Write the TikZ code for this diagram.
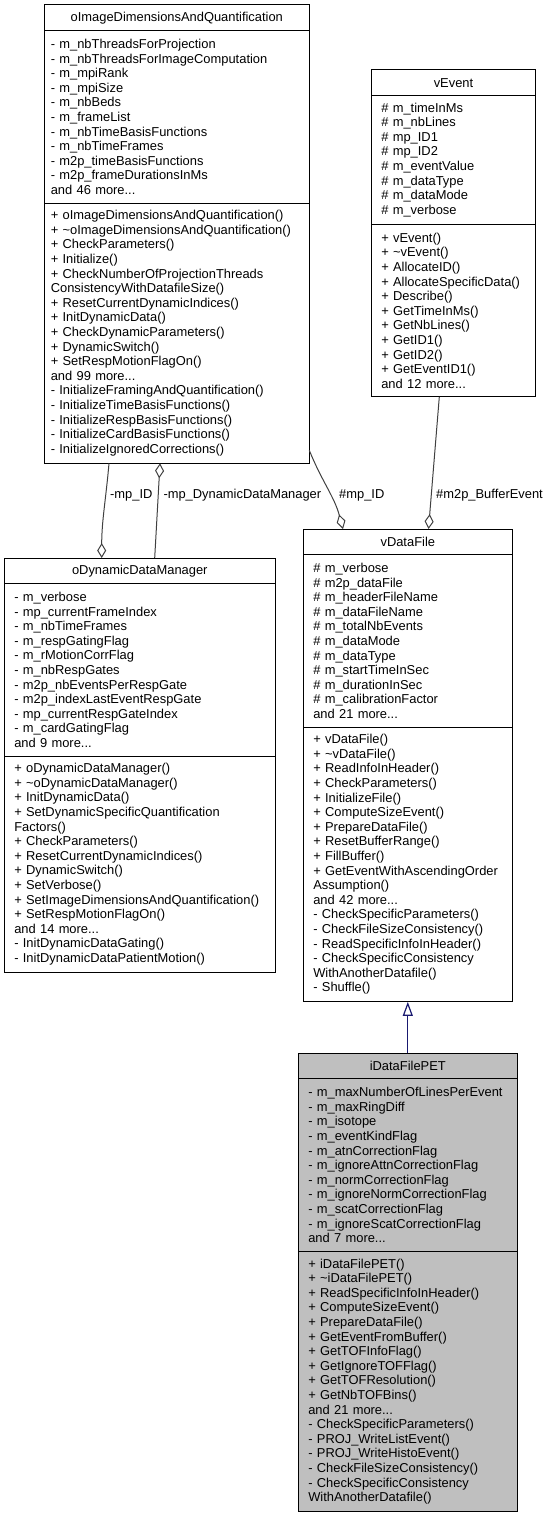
\documentclass[tikz,border=0pt]{standalone}
\usepackage{fontspec}
\setmainfont{Liberation Sans}
\usetikzlibrary{arrows.meta,positioning}
\definecolor{edgegray}{HTML}{404040}
\definecolor{inhblue}{HTML}{191970}
\tikzstyle{ctitle}=[
	draw=black,
	line width=1pt,
	outer sep=0pt,
	inner ysep=0pt,
	inner xsep=10pt,
	minimum height=25.5pt,
	align=center
]
\tikzstyle{cpart}=[
	draw=black,
	line width=1pt,
	outer sep=0pt,
	inner ysep=0pt,
	inner xsep=10pt,
	align=left
]
\tikzstyle{aggr}=[
	-{Diamond[open,length=15pt,width=9pt]},
	draw=edgegray,
	line width=1pt
]
\tikzstyle{inherit}=[
	-{Triangle[open,length=14pt,width=10pt]},
	draw=inhblue,
	line width=1.2pt
]
\tikzstyle{elabel}=[
	anchor=west,
	inner sep=0pt
]
\begin{document}
\begin{tikzpicture}[x=1pt,y=-1pt,font=\fontsize{12.9}{14.6}\selectfont]
\useasboundingbox (0,0) rectangle (549,1517);

% oImageDimensionsAndQuantification
\node[ctitle, inner xsep=6.5pt, text width=252pt, anchor=north west] (oimg) at (44.3,5) {oImageDimensionsAndQuantification};
\node[cpart, inner xsep=6.5pt, text width=252pt, minimum height=172.6pt, below=0pt of oimg] (oimgA) {- m\_nbThreadsForProjection\\
- m\_nbThreadsForImageComputation\\
- m\_mpiRank\\
- m\_mpiSize\\
- m\_nbBeds\\
- m\_frameList\\
- m\_nbTimeBasisFunctions\\
- m\_nbTimeFrames\\
- m2p\_timeBasisFunctions\\
- m2p\_frameDurationsInMs\\
and 46 more...};
\node[cpart, inner xsep=6.5pt, text width=252pt, minimum height=260.2pt, below=0pt of oimgA] (oimgM) {+ oImageDimensionsAndQuantification()\\
+ \textasciitilde oImageDimensionsAndQuantification()\\
+ CheckParameters()\\
+ Initialize()\\
+ CheckNumberOfProjectionThreads\\
ConsistencyWithDatafileSize()\\
+ ResetCurrentDynamicIndices()\\
+ InitDynamicData()\\
+ CheckDynamicParameters()\\
+ DynamicSwitch()\\
+ SetRespMotionFlagOn()\\
and 99 more...\\
- InitializeFramingAndQuantification()\\
- InitializeTimeBasisFunctions()\\
- InitializeRespBasisFunctions()\\
- InitializeCardBasisFunctions()\\
- InitializeIgnoredCorrections()};

% vEvent
\node[ctitle, text width=144.4pt, anchor=north west] (vev) at (371.3,70) {vEvent};
\node[cpart, text width=144.4pt, minimum height=128.8pt, below=0pt of vev] (vevA) {\# m\_timeInMs\\
\# m\_nbLines\\
\# mp\_ID1\\
\# mp\_ID2\\
\# m\_eventValue\\
\# m\_dataType\\
\# m\_dataMode\\
\# m\_verbose};
\node[cpart, text width=144.4pt, minimum height=172.6pt, below=0pt of vevA] (vevM) {+ vEvent()\\
+ \textasciitilde vEvent()\\
+ AllocateID()\\
+ AllocateSpecificData()\\
+ Describe()\\
+ GetTimeInMs()\\
+ GetNbLines()\\
+ GetID1()\\
+ GetID2()\\
+ GetEventID1()\\
and 12 more...};

% oDynamicDataManager
\node[ctitle, text width=251pt, anchor=north west] (odyn) at (4.3,558) {oDynamicDataManager};
\node[cpart, text width=251pt, minimum height=172.6pt, below=0pt of odyn] (odynA) {- m\_verbose\\
- mp\_currentFrameIndex\\
- m\_nbTimeFrames\\
- m\_respGatingFlag\\
- m\_rMotionCorrFlag\\
- m\_nbRespGates\\
- m2p\_nbEventsPerRespGate\\
- m2p\_indexLastEventRespGate\\
- mp\_currentRespGateIndex\\
- m\_cardGatingFlag\\
and 9 more...};
\node[cpart, text width=251pt, minimum height=216.4pt, below=0pt of odynA] (odynM) {+ oDynamicDataManager()\\
+ \textasciitilde oDynamicDataManager()\\
+ InitDynamicData()\\
+ SetDynamicSpecificQuantification\\
Factors()\\
+ CheckParameters()\\
+ ResetCurrentDynamicIndices()\\
+ DynamicSwitch()\\
+ SetVerbose()\\
+ SetImageDimensionsAndQuantification()\\
+ SetRespMotionFlagOn()\\
and 14 more...\\
- InitDynamicDataGating()\\
- InitDynamicDataPatientMotion()};

% vDataFile
\node[ctitle, text width=189pt, anchor=north west] (vdf) at (303.3,529) {vDataFile};
\node[cpart, text width=189pt, minimum height=172.6pt, below=0pt of vdf] (vdfA) {\# m\_verbose\\
\# m2p\_dataFile\\
\# m\_headerFileName\\
\# m\_dataFileName\\
\# m\_totalNbEvents\\
\# m\_dataMode\\
\# m\_dataType\\
\# m\_startTimeInSec\\
\# m\_durationInSec\\
\# m\_calibrationFactor\\
and 21 more...};
\node[cpart, text width=189pt, minimum height=274.8pt, below=0pt of vdfA] (vdfM) {+ vDataFile()\\
+ \textasciitilde vDataFile()\\
+ ReadInfoInHeader()\\
+ CheckParameters()\\
+ InitializeFile()\\
+ ComputeSizeEvent()\\
+ PrepareDataFile()\\
+ ResetBufferRange()\\
+ FillBuffer()\\
+ GetEventWithAscendingOrder\\
Assumption()\\
and 42 more...\\
- CheckSpecificParameters()\\
- CheckFileSizeConsistency()\\
- ReadSpecificInfoInHeader()\\
- CheckSpecificConsistency\\
WithAnotherDatafile()\\
- Shuffle()};

% iDataFilePET
\node[ctitle, fill=black!25, text width=199pt, below=51.4pt of vdfM] (pet) {iDataFilePET};
\node[cpart, fill=black!25, text width=199pt, minimum height=172.6pt, below=0pt of pet] (petA) {- m\_maxNumberOfLinesPerEvent\\
- m\_maxRingDiff\\
- m\_isotope\\
- m\_eventKindFlag\\
- m\_atnCorrectionFlag\\
- m\_ignoreAttnCorrectionFlag\\
- m\_normCorrectionFlag\\
- m\_ignoreNormCorrectionFlag\\
- m\_scatCorrectionFlag\\
- m\_ignoreScatCorrectionFlag\\
and 7 more...};
\node[cpart, fill=black!25, text width=199pt, minimum height=260.2pt, below=0pt of petA] (petM) {+ iDataFilePET()\\
+ \textasciitilde iDataFilePET()\\
+ ReadSpecificInfoInHeader()\\
+ ComputeSizeEvent()\\
+ PrepareDataFile()\\
+ GetEventFromBuffer()\\
+ GetTOFInfoFlag()\\
+ GetIgnoreTOFFlag()\\
+ GetTOFResolution()\\
+ GetNbTOFBins()\\
and 21 more...\\
- CheckSpecificParameters()\\
- PROJ\_WriteListEvent()\\
- PROJ\_WriteHistoEvent()\\
- CheckFileSizeConsistency()\\
- CheckSpecificConsistency\\
WithAnotherDatafile()};

% connectors
\draw[aggr] ([xshift=64.7pt]oimgM.south west) to[out=-95, in=90] ([xshift=97.4pt]odyn.north west);
\draw[aggr] ([xshift=150.4pt]odyn.north west) -- ([xshift=115.7pt]oimgM.south west);
\draw[aggr] ([yshift=13pt]oimgM.south east) to[out=-68, in=105] ([xshift=39.7pt]vdf.north west);
\draw[aggr] ([xshift=68pt]vevM.south west) -- ([xshift=125.2pt]vdf.north west);
\draw[inherit] (pet.north) -- (vdfM.south);

\node[elabel] (lmpid) at (110,495) {-mp\_ID};
\node[elabel] (lddm) at (163.3,495) {-mp\_DynamicDataManager};
\node[elabel] (lvmpid) at (339,495) {\#mp\_ID};
\node[elabel] (lbuf) at (436,495) {\#m2p\_BufferEvent};

\end{tikzpicture}
\end{document}
